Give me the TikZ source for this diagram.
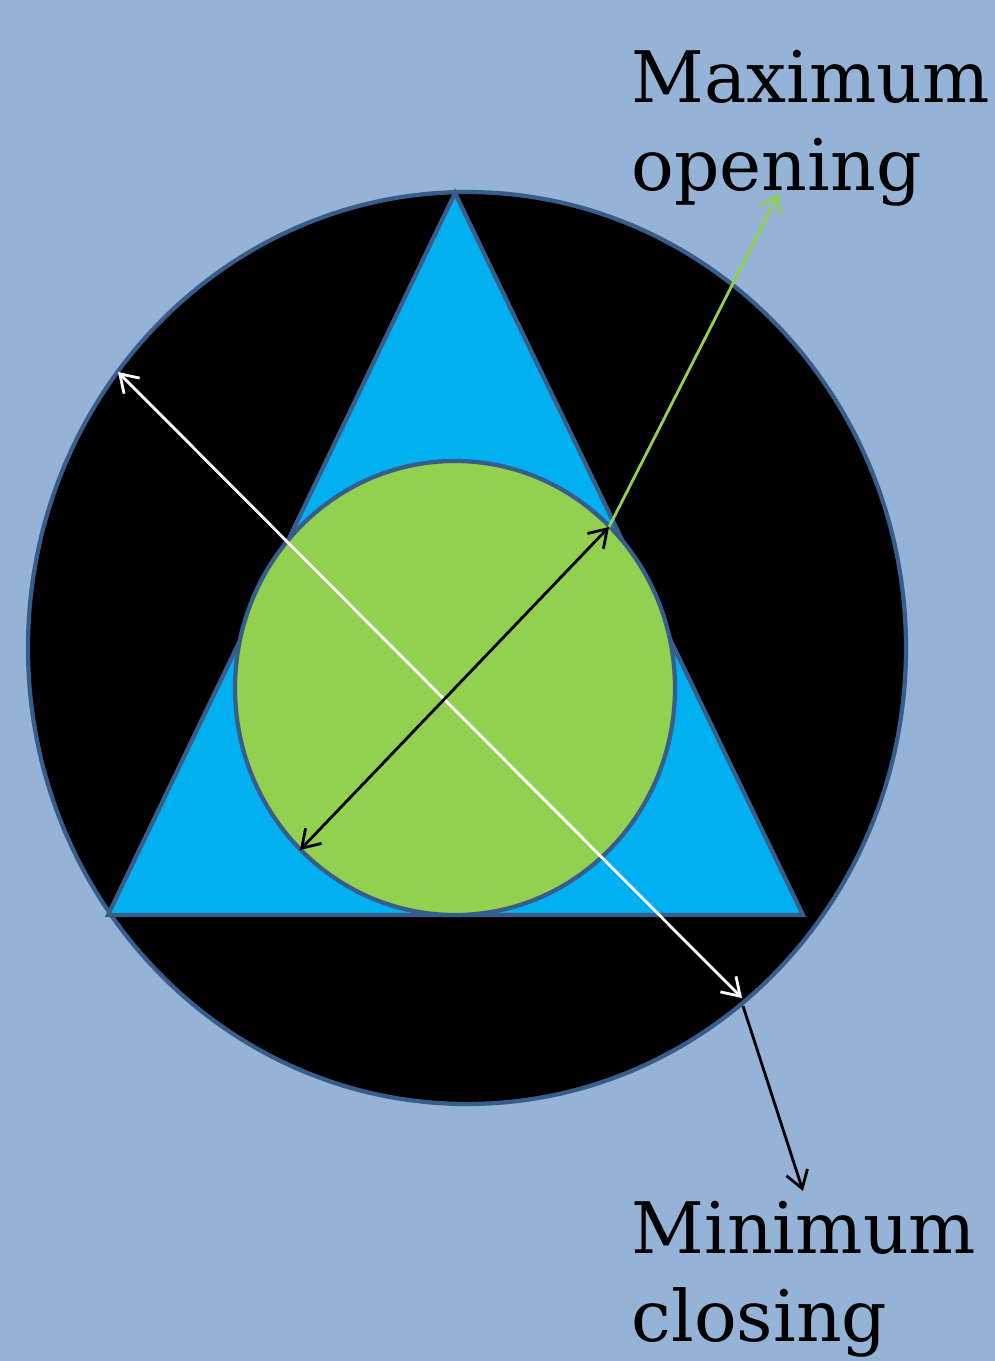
\documentclass[tikz,border=0pt]{standalone}
\usepackage{xcolor}
\usepackage{fontspec}
\setmainfont{DejaVu Serif}
\usepackage{tikz}
\usetikzlibrary{positioning,arrows.meta,shapes.geometric}
\definecolor{skyback}{RGB}{149,179,215}
\definecolor{rimblue}{RGB}{56,93,138}
\definecolor{wedgecyan}{RGB}{0,176,240}
\definecolor{lensgreen}{RGB}{146,208,80}

\begin{document}
\begin{tikzpicture}[x=0.01cm, y=-0.01cm,
  rim/.style={draw=rimblue, line width=1.2pt},
  gauge/.style={line width=0.8pt, {Straight Barb[length=1.7mm,width=2.2mm]}-{Straight Barb[length=1.7mm,width=2.2mm]}},
  pointer/.style={line width=0.8pt, -{Straight Barb[length=1.7mm,width=2.2mm]}},
  caption/.style={anchor=north west, align=left, inner sep=0pt, font=\fontsize{20.2}{25}\selectfont}]
\fill[skyback] (0,0) rectangle (995,1361);
\useasboundingbox (0,0) rectangle (995,1361);

% disc, wedge and lens
\filldraw[rim, fill=black] (467,648) ellipse [x radius=439, y radius=456];
\filldraw[rim, fill=wedgecyan, line join=miter] (455,193) -- (108,915) -- (803,915) -- cycle;
\filldraw[rim, fill=lensgreen] (455,688) ellipse [x radius=220, y radius=227];

% end points of the gauges
\coordinate (outtop) at (118,372);
\coordinate (outbot) at (742,998);
\coordinate (inlow) at (300,850);
\coordinate (inhigh) at (609,527);
\coordinate (outfoot) at (743,1006);

\node[caption] (maxtext) at (631,50) {Maximum\\opening};
\node[caption] (mintext) at (631,1201) {Minimum\\closing};
\coordinate (maxtip) at (779,193);
\coordinate (mintip) at (803,1191);

\draw[gauge, white] (outtop) -- (outbot);
\draw[gauge, black] (inlow) -- (inhigh);
\draw[pointer, lensgreen] (inhigh) -- (maxtip);
\draw[pointer, black] (outfoot) -- (mintip);
\end{tikzpicture}
\end{document}
